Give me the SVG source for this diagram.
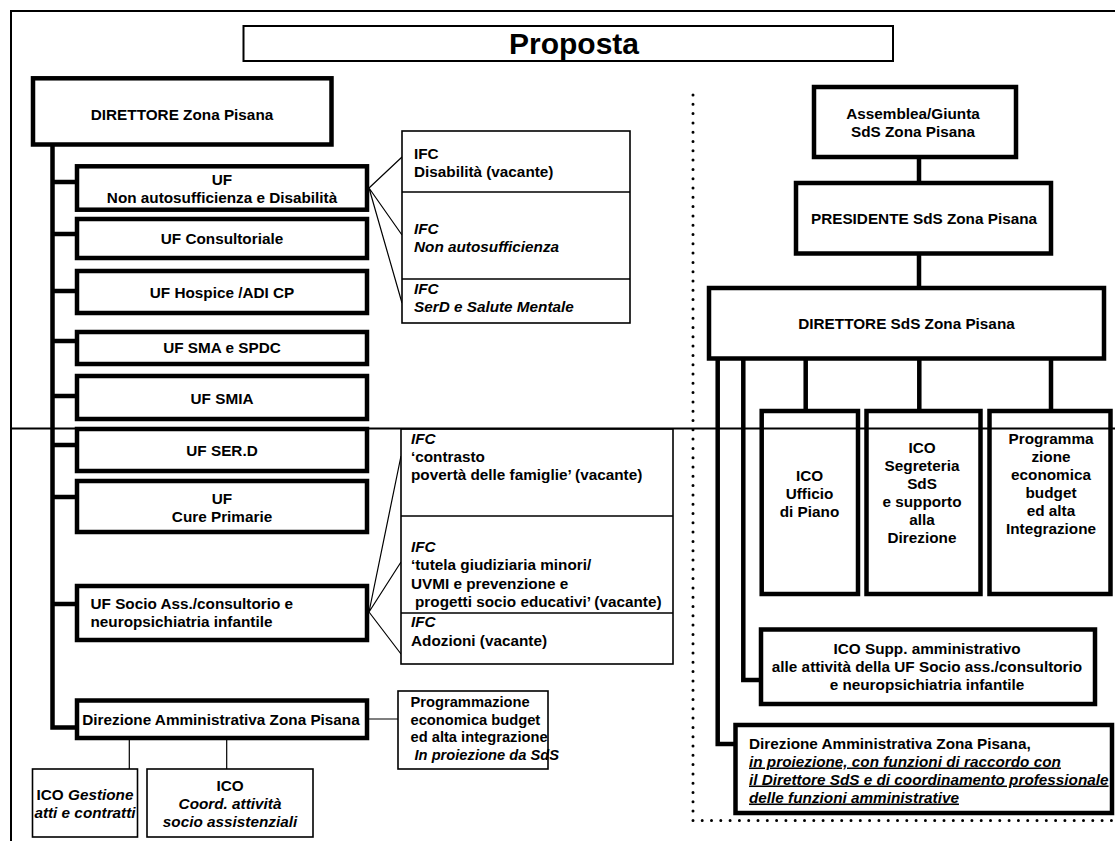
<svg xmlns="http://www.w3.org/2000/svg" width="1115" height="841" viewBox="0 0 1115 841">
<style>
.t{font-family:"Liberation Sans",Arial,sans-serif;font-weight:bold;font-size:15.3px;fill:#000}
.c{text-anchor:middle}
.i{font-style:italic}
.u{text-decoration:underline}
.bx{fill:#fff;stroke:#000;stroke-width:4.5}
.bt{fill:#fff;stroke:#000;stroke-width:1.6}
.ln{stroke:#000;stroke-width:1.2;fill:none}
.lk{stroke:#000;stroke-width:4.5;fill:none}
.fr{stroke:#000;stroke-width:2;fill:none}
.dot{stroke:#000;stroke-width:3;stroke-linecap:round;stroke-dasharray:0 9.3;fill:none}
</style>
<rect x="0" y="0" width="1115" height="841" fill="#fff"/>
<path class="fr" d="M11,841 V11 H1115"/>
<path class="dot" d="M693,95 V820.5 H1112"/>

<g id="connectors">
  <path class="lk" d="M52.5,146 V727.5 H77"/>
  <path class="lk" d="M52.5,182 H77 M52.5,234 H77 M52.5,291 H77 M52.5,341 H77 M52.5,396 H77 M52.5,445 H77 M52.5,497 H77 M52.5,604 H77"/>
  <path class="ln" d="M369,188 L402,157 M369,188 L402,235 M369,188 L402,303"/>
  <path class="ln" d="M369,612 L401,456 M369,612 L401,562 M369,612 L401,654"/>
  <path class="ln" d="M368,719 H398 M129.3,740 V769 M226.7,740 V769"/>
  <path class="lk" d="M919,157 V183 M919,253.5 V288 M805.7,358 V411 M919.3,358 V411 M1051,358 V411"/>
  <path class="lk" d="M717.7,358 V744 H735.5 M743.3,358 V680 H761"/>
</g>

<g id="title">
  <rect x="243.5" y="26" width="649.5" height="35" fill="#fff" stroke="#000" stroke-width="2"/>
  <text class="t c" x="574" y="54" style="font-size:30px">Proposta</text>
</g>

<g id="dir-zona">
  <rect class="bx" x="33" y="78.3" width="298.5" height="66.2"/>
  <text class="t c" x="182" y="120">DIRETTORE Zona Pisana</text>
</g>

<g id="uf-nonauto">
  <rect class="bx" x="77" y="166.3" width="290" height="43.4"/>
  <text class="t c" x="222" y="184.5">UF</text>
  <text class="t c" x="222" y="202.5">Non autosufficienza e Disabilità</text>
</g>
<g id="uf-consultoriale">
  <rect class="bx" x="77" y="219" width="290" height="39"/>
  <text class="t c" x="222" y="244">UF Consultoriale</text>
</g>
<g id="uf-hospice">
  <rect class="bx" x="77" y="271" width="290" height="42"/>
  <text class="t c" x="222" y="297.5">UF Hospice /ADI CP</text>
</g>
<g id="uf-sma">
  <rect class="bx" x="77" y="332" width="290" height="32"/>
  <text class="t c" x="222" y="352.5">UF SMA e SPDC</text>
</g>
<g id="uf-smia">
  <rect class="bx" x="77" y="376" width="290" height="43"/>
  <text class="t c" x="222" y="403.5">UF SMIA</text>
</g>
<g id="uf-serd">
  <rect class="bx" x="77" y="429" width="290" height="42"/>
  <text class="t c" x="222" y="455.5">UF SER.D</text>
</g>
<g id="uf-cure">
  <rect class="bx" x="77" y="481" width="290" height="51"/>
  <text class="t c" x="222" y="503.5">UF</text>
  <text class="t c" x="222" y="521.5">Cure Primarie</text>
</g>
<g id="uf-socio">
  <rect class="bx" x="77" y="586" width="290" height="54"/>
  <text class="t" x="90.5" y="609.3">UF Socio Ass./consultorio e</text>
  <text class="t" x="90.5" y="627">neuropsichiatria infantile</text>
</g>
<g id="dir-amm-zona">
  <rect class="bx" x="77" y="700.5" width="290" height="37.5"/>
  <text class="t c" x="221" y="724.5">Direzione Amministrativa Zona Pisana</text>
</g>

<g id="ifc-upper">
  <rect class="bt" x="402" y="131" width="228" height="192"/>
  <path class="bt" d="M402,192 H630 M402,279 H630"/>
  <text class="t" x="414" y="159">IFC</text>
  <text class="t" x="414" y="177">Disabilità (vacante)</text>
  <text class="t i" x="414" y="234">IFC</text>
  <text class="t i" x="414" y="252">Non autosufficienza</text>
  <text class="t i" x="414" y="294">IFC</text>
  <text class="t i" x="414" y="312">SerD e Salute Mentale</text>
</g>

<g id="ifc-lower">
  <rect class="bt" x="401" y="429" width="272" height="235"/>
  <path class="bt" d="M401,516 H673 M401,613 H673"/>
  <text class="t i" x="411" y="443.5">IFC</text>
  <text class="t" x="411" y="461.5">‘contrasto</text>
  <text class="t" x="411" y="480">povertà delle famiglie’ (vacante)</text>
  <text class="t i" x="411" y="552">IFC</text>
  <text class="t" x="411" y="570">‘tutela giudiziaria minori/</text>
  <text class="t" x="411" y="588.5">UVMI e prevenzione e</text>
  <text class="t" x="415" y="607">progetti socio educativi’ (vacante)</text>
  <text class="t i" x="411" y="627">IFC</text>
  <text class="t" x="411" y="646">Adozioni (vacante)</text>
</g>

<g id="prog-left">
  <rect class="bt" x="398" y="691" width="150" height="78"/>
  <text class="t" x="410.5" y="707" style="font-size:14.7px">Programmazione</text>
  <text class="t" x="410.5" y="724.5" style="font-size:14.7px">economica budget</text>
  <text class="t" x="410.5" y="742" style="font-size:14.7px">ed alta integrazione</text>
  <text class="t i" x="414.5" y="759.5" style="font-size:14.7px">In proiezione da SdS</text>
</g>

<g id="ico-gestione">
  <rect class="bt" x="32.5" y="769" width="105" height="68"/>
  <text class="t c" x="85" y="799.5">ICO <tspan class="i">Gestione</tspan></text>
  <text class="t c i" x="85" y="817.5">atti e contratti</text>
</g>
<g id="ico-coord">
  <rect class="bt" x="147" y="769" width="166" height="68"/>
  <text class="t c" x="230" y="790.5">ICO</text>
  <text class="t c i" x="230" y="808.5">Coord. attività</text>
  <text class="t c i" x="230" y="826.5">socio assistenziali</text>
</g>

<g id="assemblea">
  <rect class="bx" x="814" y="87" width="202" height="70"/>
  <text class="t c" x="913" y="118.5">Assemblea/Giunta</text>
  <text class="t c" x="913" y="136.5">SdS Zona Pisana</text>
</g>
<g id="presidente">
  <rect class="bx" x="796" y="183" width="255" height="70.5"/>
  <text class="t c" x="924" y="224">PRESIDENTE SdS Zona Pisana</text>
</g>
<g id="dir-sds">
  <rect class="bx" x="709" y="288" width="395" height="70.5"/>
  <text class="t c" x="906.5" y="329">DIRETTORE SdS Zona Pisana</text>
</g>
<g id="ico-piano">
  <rect class="bx" x="761.7" y="411" width="96.3" height="183"/>
  <text class="t c" x="809.5" y="481">ICO</text>
  <text class="t c" x="809.5" y="499">Ufficio</text>
  <text class="t c" x="809.5" y="517">di Piano</text>
</g>
<g id="ico-segreteria">
  <rect class="bx" x="866.5" y="411" width="114" height="183"/>
  <text class="t c" x="922" y="452.5">ICO</text>
  <text class="t c" x="922" y="470.5">Segreteria</text>
  <text class="t c" x="922" y="488.5">SdS</text>
  <text class="t c" x="922" y="506.5">e supporto</text>
  <text class="t c" x="922" y="524.5">alla</text>
  <text class="t c" x="922" y="542.5">Direzione</text>
</g>
<g id="prog-right">
  <rect class="bx" x="989.5" y="411" width="121" height="183"/>
  <text class="t c" x="1051" y="444">Programma</text>
  <text class="t c" x="1051" y="462">zione</text>
  <text class="t c" x="1051" y="480">economica</text>
  <text class="t c" x="1051" y="498">budget</text>
  <text class="t c" x="1051" y="516">ed alta</text>
  <text class="t c" x="1051" y="534">Integrazione</text>
</g>
<g id="ico-supp">
  <rect class="bx" x="761" y="629.5" width="334" height="74.5"/>
  <text class="t c" x="927" y="654">ICO Supp. amministrativo</text>
  <text class="t c" x="927" y="672">alle attività della UF Socio ass./consultorio</text>
  <text class="t c" x="927" y="690">e neuropsichiatria infantile</text>
</g>
<g id="dir-amm-sds">
  <rect class="bx" x="735.5" y="725" width="376.5" height="88"/>
  <text class="t" x="749" y="748.5">Direzione Amministrativa Zona Pisana,</text>
  <text class="t i u" x="749" y="766.5">in proiezione, con funzioni di raccordo con</text>
  <text class="t i u" x="749" y="784.5">il Direttore SdS e di coordinamento professionale</text>
  <text class="t i u" x="749" y="802.5">delle funzioni amministrative</text>
</g>

<line class="fr" x1="11" y1="428.5" x2="1115" y2="428.5"/>
</svg>
